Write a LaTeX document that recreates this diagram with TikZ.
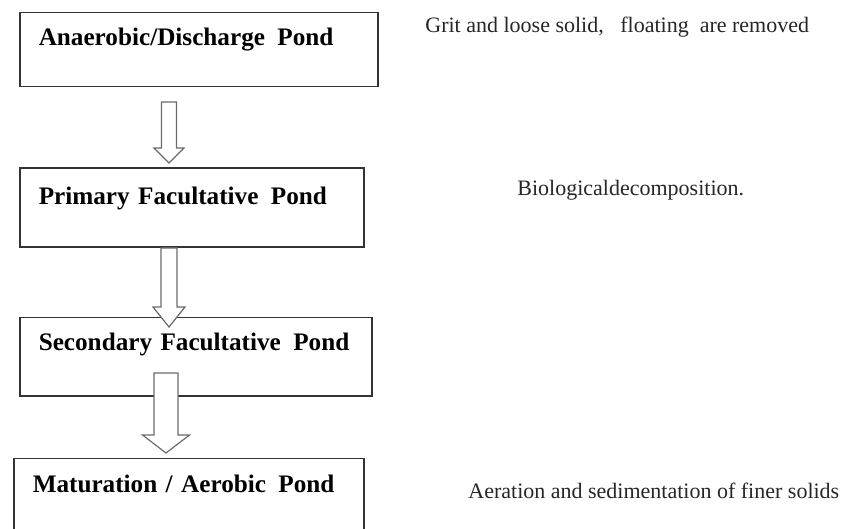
\documentclass[tikz,border=0pt]{standalone}
\usepackage{fontspec}
\setmainfont{Liberation Serif}
\usepackage{tikz}
\usetikzlibrary{calc, positioning}
\definecolor{edgegray}{gray}{0.2}
\definecolor{arrowgray}{gray}{0.42}
\tikzstyle{pond} = [rectangle, draw=edgegray, line width=0.75pt, anchor=north west, inner xsep=9.5pt, inner ysep=0pt,
    align=left, font=\fontsize{12.6}{15}\selectfont\bfseries]
\tikzstyle{note} = [anchor=base west, inner sep=0pt, font=\fontsize{11}{13}\selectfont, text=black!85]
\tikzstyle{flow} = [draw=arrowgray, fill=white, line width=0.6pt, line join=miter]
\newcommand{\gap}{\ \hspace{2pt}}
% hollow block arrow: from, to, shaft half width, head half width, head length
\newcommand{\fatarrow}[5]{%
  \path[flow] ($(#1)+(-#3,0)$) -- ($(#1)+(#3,0)$) -- ($(#2)+(#3,-#5)$) -- ($(#2)+(#4,-#5)$)
    -- (#2) -- ($(#2)+(-#4,-#5)$) -- ($(#2)+(-#3,-#5)$) -- cycle;}

\begin{document}
\begin{tikzpicture}[x=0.5pt, y=-0.5pt]
    \clip (0,0) rectangle (846,529);
    % Place nodes
    \node [pond, text width=160pt, text height=16.5pt, text depth=20.5pt] (one) at (19,12) {\mbox{Anaerobic/Discharge\gap Pond}};
    \node [pond, text width=153pt, text height=18pt, text depth=21.5pt, below=40pt of one.south west, anchor=north west] (two) {\mbox{Primary Facultative\gap Pond}};
    \node [pond, text width=157pt, text height=16.5pt, text depth=22.5pt, below=34.5pt of two.south west, anchor=north west] (three) {\mbox{Secondary Facultative\gap Pond}};
    \node [pond, text width=156pt, text height=17pt, text depth=40pt, below=30.5pt of three.south west, anchor=north west, xshift=-3pt] (four) {\mbox{Maturation / Aerobic\gap Pond}};

    \node [note] (grit) at (425,33) {Grit and loose solid,~~ floating~ are removed};
    \node [note] (bio) at (517,196) {Biologicaldecomposition.};
    \node [note] (aer) at (468,498) {Aeration and sedimentation of finer solids};

    % Draw edges
    \coordinate (a1s) at (169,102);
    \coordinate (a1e) at (169,163);
    \coordinate (a2s) at (169,248);
    \coordinate (a2e) at (169,327);
    \coordinate (a3s) at (166,373);
    \coordinate (a3e) at (166,453);
    \fatarrow{a1s}{a1e}{7.5}{15}{15}
    \fatarrow{a2s}{a2e}{8}{16}{20}
    \fatarrow{a3s}{a3e}{12}{23.5}{18}
\end{tikzpicture}
\end{document}
